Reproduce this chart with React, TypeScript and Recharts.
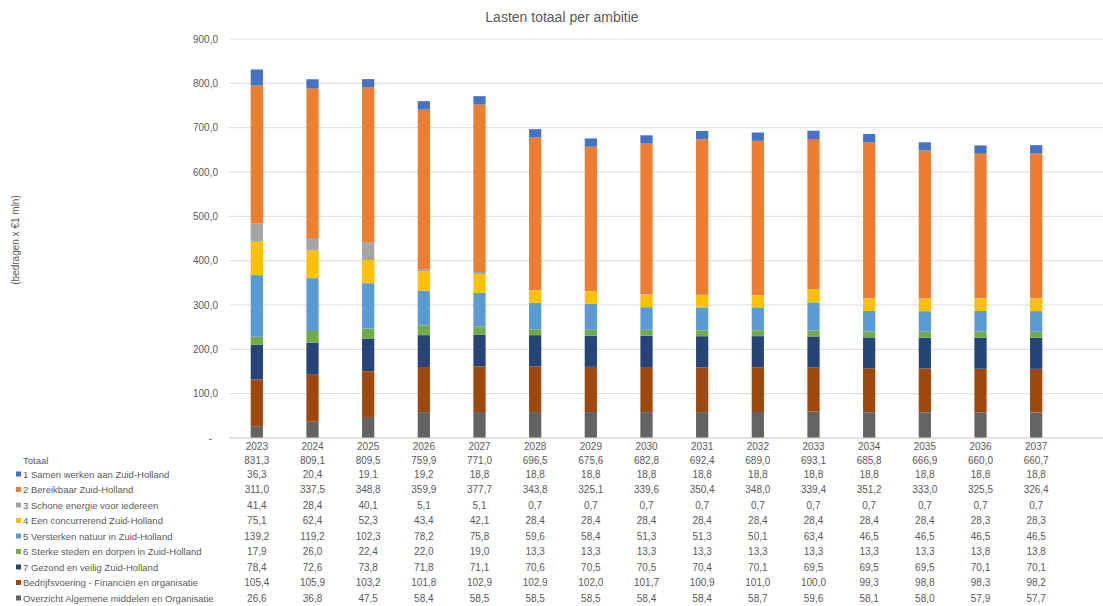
import React from "react";
import { BarChart, Bar, XAxis, YAxis, CartesianGrid } from "recharts";

// ─── Data ─────────────────────────────────────────────────────────────────────

const years = [
  "2023", "2024", "2025", "2026", "2027", "2028", "2029", "2030",
  "2031", "2032", "2033", "2034", "2035", "2036", "2037",
];

const totaal = [
  831.3, 809.1, 809.5, 759.9, 771.0, 696.5, 675.6, 682.8, 692.4, 689.0, 693.1,
  685.8, 666.9, 660.0, 660.7,
];

const samenWerken = [
  36.3, 20.4, 19.1, 19.2, 18.8, 18.8, 18.8, 18.8, 18.8, 18.8, 18.8, 18.8, 18.8,
  18.8, 18.8,
];
const bereikbaar = [
  311.0, 337.5, 348.8, 359.9, 377.7, 343.8, 325.1, 339.6, 350.4, 348.0, 339.4,
  351.2, 333.0, 325.5, 326.4,
];
const schoneEnergie = [
  41.4, 28.4, 40.1, 5.1, 5.1, 0.7, 0.7, 0.7, 0.7, 0.7, 0.7, 0.7, 0.7, 0.7, 0.7,
];
const concurrerend = [
  75.1, 62.4, 52.3, 43.4, 42.1, 28.4, 28.4, 28.4, 28.4, 28.4, 28.4, 28.4, 28.4,
  28.3, 28.3,
];
const natuur = [
  139.2, 119.2, 102.3, 78.2, 75.8, 59.6, 58.4, 51.3, 51.3, 50.1, 63.4, 46.5,
  46.5, 46.5, 46.5,
];
const sterkeSteden = [
  17.9, 26.0, 22.4, 22.0, 19.0, 13.3, 13.3, 13.3, 13.3, 13.3, 13.3, 13.3, 13.3,
  13.8, 13.8,
];
const gezondVeilig = [
  78.4, 72.6, 73.8, 71.8, 71.1, 70.6, 70.5, 70.5, 70.4, 70.1, 69.5, 69.5, 69.5,
  70.1, 70.1,
];
const bedrijfsvoering = [
  105.4, 105.9, 103.2, 101.8, 102.9, 102.9, 102.0, 101.7, 100.9, 101.0, 100.0,
  99.3, 98.8, 98.3, 98.2,
];
const overzicht = [
  26.6, 36.8, 47.5, 58.4, 58.5, 58.5, 58.5, 58.4, 58.4, 58.7, 59.6, 58.1, 58.0,
  57.9, 57.7,
];

const yTicks = [0, 100, 200, 300, 400, 500, 600, 700, 800, 900];

// table order (top → bottom); bars are stacked in reverse
const series = [
  { key: "s1", label: "1 Samen werken aan Zuid-Holland", color: "#4472C4", values: samenWerken },
  { key: "s2", label: "2 Bereikbaar Zuid-Holland", color: "#ED7D31", values: bereikbaar },
  { key: "s3", label: "3 Schone energie voor iedereen", color: "#A5A5A5", values: schoneEnergie },
  { key: "s4", label: "4 Een concurrerend Zuid-Holland", color: "#FFC000", values: concurrerend },
  { key: "s5", label: "5 Versterken natuur in Zuid-Holland", color: "#5B9BD5", values: natuur },
  { key: "s6", label: "6 Sterke steden en dorpen in Zuid-Holland", color: "#70AD47", values: sterkeSteden },
  { key: "s7", label: "7 Gezond en veilig Zuid-Holland", color: "#264478", values: gezondVeilig },
  { key: "s8", label: "Bedrijfsvoering - Financiën en organisatie", color: "#9E480E", values: bedrijfsvoering },
  { key: "s9", label: "Overzicht Algemene middelen en Organisatie", color: "#636363", values: overzicht },
];

const data = years.map((year, i) => {
  const row: Record<string, string | number> = { year, total: totaal[i] };
  series.forEach((s) => (row[s.key] = s.values[i]));
  return row;
});

// ─── Helpers ──────────────────────────────────────────────────────────────────

const FONT = '"Liberation Sans", Arial, sans-serif';
const TEXT = "#595959";

const fmt = (v: number) => v.toFixed(1).replace(".", ",");

function ValueTick({ x, y, payload }: any) {
  const v = payload.value as number;
  return (
    <text
      x={v === 0 ? x - 17 : x - 11}
      y={y}
      textAnchor="end"
      dominantBaseline="central"
      fontSize={10}
      fontFamily={FONT}
      fill={TEXT}
    >
      {v === 0 ? "-" : fmt(v)}
    </text>
  );
}

// data table under the x axis: one column per category
function TableTick({ x, y, payload }: any) {
  const i = years.indexOf(String(payload.value));
  const rowY = (r: number) => y + 36 + r * 15.5;
  const common = {
    fontSize: 10,
    fontFamily: FONT,
    fill: TEXT,
    dominantBaseline: "central" as const,
  };
  return (
    <g>
      <text x={x} y={y + 8} textAnchor="middle" {...common}>
        {payload.value}
      </text>
      <text x={x} y={y + 22} textAnchor="middle" {...common}>
        {fmt(totaal[i])}
      </text>
      {series.map((s, r) => (
        <text key={s.key} x={x} y={rowY(r)} textAnchor="middle" {...common}>
          {fmt(s.values[i])}
        </text>
      ))}
      {i === 0 && (
        <g>
          <text x={23} y={y + 22} {...common} fontSize={9.5}>
            Totaal
          </text>
          {series.map((s, r) => (
            <g key={s.key}>
              <rect x={16} y={rowY(r) - 2.5} width={5} height={5} fill={s.color} />
              <text x={23} y={rowY(r)} {...common} fontSize={9.5}>
                {s.label}
              </text>
            </g>
          ))}
        </g>
      )}
    </g>
  );
}

// ─── Chart ────────────────────────────────────────────────────────────────────

export default function App() {
  return (
    <div
      style={{
        position: "absolute",
        left: 0,
        top: 0,
        width: 1103,
        height: 606,
        background: "#fff",
        fontFamily: FONT,
      }}
    >
      <BarChart
        width={1103}
        height={606}
        data={data}
        margin={{ top: 39, right: 0, left: 0, bottom: 0 }}
        barCategoryGap="61%"
      >
        <CartesianGrid vertical={false} stroke="#D9D9D9" />
        <XAxis
          dataKey="year"
          height={168}
          interval={0}
          tickLine={false}
          tickSize={0}
          tickMargin={0}
          axisLine={{ stroke: "#D9D9D9" }}
          padding={{ left: 0, right: 39 }}
          tick={<TableTick />}
        />
        <YAxis
          width={229}
          domain={[0, 900]}
          ticks={yTicks}
          axisLine={false}
          tickLine={false}
          tickSize={0}
          tickMargin={0}
          tick={<ValueTick />}
        />
        {[...series].reverse().map((s) => (
          <Bar
            key={s.key}
            dataKey={s.key}
            name={s.label}
            stackId="lasten"
            fill={s.color}
            isAnimationActive={false}
          />
        ))}
      </BarChart>

      {/* Title */}
      <div
        style={{
          position: "absolute",
          top: 8,
          left: 0,
          width: 1124,
          textAlign: "center",
          fontSize: 14,
          lineHeight: "18px",
          color: TEXT,
        }}
      >
        Lasten totaal per ambitie
      </div>

      {/* Y axis title */}
      <div
        style={{
          position: "absolute",
          left: 15,
          top: 240,
          transform: "translate(-50%, -50%) rotate(-90deg)",
          whiteSpace: "nowrap",
          fontSize: 10,
          color: TEXT,
        }}
      >
        (bedragen x €1 mln)
      </div>
    </div>
  );
}
